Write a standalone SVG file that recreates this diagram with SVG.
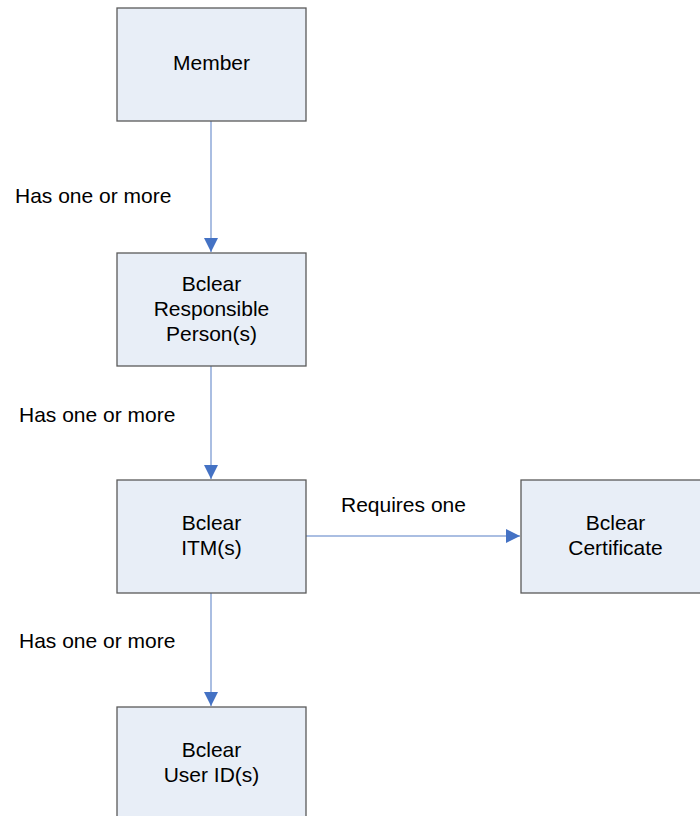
<svg xmlns="http://www.w3.org/2000/svg" width="700" height="816" viewBox="0 0 700 816">
<style>
.box{fill:#E8EEF7;stroke:#5a5a5a;stroke-width:1.3}
text{font-family:"Liberation Sans",Arial,sans-serif;font-size:21px;fill:#000}
.c{text-anchor:middle}
.ln{stroke:#8EA9D8;stroke-width:1.5;fill:none}
</style>
<defs>
<marker id="ah" markerWidth="14" markerHeight="14" refX="14" refY="7" orient="auto" markerUnits="userSpaceOnUse">
<path d="M0,0 L14,7 L0,14 Z" fill="#4472C4"/>
</marker>
</defs>
<rect width="700" height="816" fill="#fff"/>
<g id="connectors">
<line class="ln" x1="211" y1="121" x2="211" y2="252" marker-end="url(#ah)"/>
<line class="ln" x1="211" y1="366" x2="211" y2="479" marker-end="url(#ah)"/>
<line class="ln" x1="211" y1="593" x2="211" y2="706" marker-end="url(#ah)"/>
<line class="ln" x1="306" y1="536" x2="520" y2="536" marker-end="url(#ah)"/>
<text x="15" y="203">Has one or more</text>
<text x="19" y="422">Has one or more</text>
<text x="19" y="648">Has one or more</text>
<text x="341" y="512">Requires one</text>
</g>
<g id="member">
<rect class="box" x="117" y="8" width="189" height="113"/>
<text class="c" x="211.5" y="70">Member</text>
</g>
<g id="responsible">
<rect class="box" x="117" y="253" width="189" height="113"/>
<text class="c" x="211.5" y="291">Bclear</text>
<text class="c" x="211.5" y="316">Responsible</text>
<text class="c" x="211.5" y="341">Person(s)</text>
</g>
<g id="itm">
<rect class="box" x="117" y="480" width="189" height="113"/>
<text class="c" x="211.5" y="530">Bclear</text>
<text class="c" x="211.5" y="555">ITM(s)</text>
</g>
<g id="certificate">
<rect class="box" x="521" y="480" width="189" height="113"/>
<text class="c" x="615.5" y="530">Bclear</text>
<text class="c" x="615.5" y="555">Certificate</text>
</g>
<g id="userid">
<rect class="box" x="117" y="707" width="189" height="120"/>
<text class="c" x="211.5" y="757">Bclear</text>
<text class="c" x="211.5" y="782">User ID(s)</text>
</g>
</svg>
